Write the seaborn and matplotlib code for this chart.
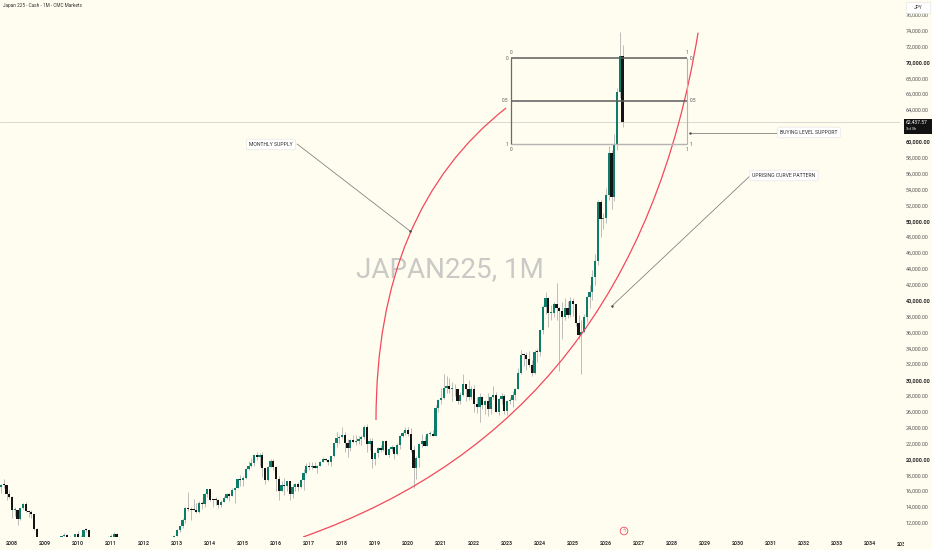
import numpy as np
import pandas as pd
import matplotlib
matplotlib.use("Agg")
import matplotlib.pyplot as plt
import seaborn as sns
from matplotlib.path import Path
from matplotlib.patches import PathPatch, Rectangle

# monthly candles Aug 2007 .. Jul 2026
months = pd.date_range("2007-08-01", "2026-07-01", freq="MS")

opens = [
    17248, 16569, 16786, 16737, 15680,
    15308, 13592, 13603, 12526, 13850, 14338, 13481, 13376, 13072, 11260, 8577, 8512,
    8860, 7994, 7568, 8110, 8828, 9523, 9958, 10357, 10493, 10133, 10034, 9345,
    10546, 10198, 10126, 11089, 11057, 9768, 9383, 9537, 8824, 9369, 9202, 9937,
    10229, 10237, 10624, 9755, 9850, 9693, 9816, 9833, 8955, 8700, 8988, 8434,
    8455, 8802, 9723, 10083, 9520, 8543, 9007, 8695, 8840, 8870, 8928, 9446,
    10395, 11138, 11559, 12398, 13860, 13774, 13677, 13668, 13389, 14456, 14328, 15662,
    16291, 14915, 14841, 14828, 14304, 14632, 15162, 15621, 15425, 16174, 16414, 17460,
    17451, 17674, 18798, 19207, 19520, 20563, 20236, 20585, 18890, 17388, 19083, 19747,
    19034, 17518, 16027, 16759, 16666, 17235, 15576, 16569, 16887, 16450, 17425, 18308,
    19114, 19041, 19119, 18909, 19197, 19651, 20033, 19925, 19646, 20356, 22012, 22725,
    22765, 23098, 22068, 21454, 22468, 22202, 22305, 22554, 22865, 24120, 21920, 22351,
    20015, 20773, 21385, 21206, 22259, 20601, 21276, 21522, 20704, 21756, 22927, 23294,
    23657, 23205, 21143, 18917, 20194, 21878, 22288, 21710, 23140, 23185, 22977, 26434,
    27444, 27663, 28966, 29179, 28813, 28860, 28792, 27284, 28090, 29453, 28893, 27822,
    28792, 27002, 26527, 27821, 26848, 27280, 26393, 27802, 28092, 25937, 27587, 27968,
    26095, 27327, 27446, 28041, 28856, 30888, 33189, 33172, 32619, 31858, 30859, 33487,
    33464, 36287, 39166, 40369, 38406, 38488, 39583, 39102, 38648, 37920, 39081, 38208,
    39895, 39572, 37156, 35618, 36045, 37965, 40487, 41070, 43000, 44933, 52411, 50254,
    50340, 53300, 58600, 53000, 59700, 66200, 70800,
]
highs = [
    17362, 16900, 17488, 16752, 16150,
    15400, 14031, 13670, 13894, 14489, 14601, 13600, 13603, 13100, 11400, 9520, 8950,
    9325, 8076, 8843, 9070, 9558, 10170, 10400, 10767, 10600, 10335, 10130, 10640,
    10982, 10500, 11097, 11408, 11100, 10251, 9800, 9700, 9700, 9700, 10200, 10370,
    10600, 10857, 10768, 9900, 10017, 9900, 10207, 10040, 9050, 9100, 9150, 8700,
    8900, 9867, 10255, 10100, 9600, 9100, 9100, 9200, 9300, 9100, 9500, 10433,
    11200, 11600, 12650, 13980, 15942, 14000, 14953, 14466, 14800, 14800, 15750, 16320,
    16321, 15000, 15300, 15000, 14900, 15400, 15700, 15750, 16374, 16533, 17520, 18030,
    17900, 18850, 19778, 20133, 20600, 20953, 20851, 20946, 18900, 19100, 20012, 20012,
    19100, 17900, 17291, 17613, 17250, 17300, 16938, 17000, 17100, 17500, 18800, 19592,
    19615, 19668, 19656, 19300, 19800, 20318, 20200, 20100, 20400, 22100, 23382, 23000,
    24129, 23500, 22500, 22500, 23050, 23000, 22900, 23000, 24286, 24448, 22700, 22700,
    20900, 21500, 21800, 22300, 22400, 21400, 21800, 21600, 22100, 23000, 23600, 24100,
    24116, 24000, 21700, 20400, 22000, 23200, 22900, 23300, 23600, 23700, 26800, 27600,
    28979, 30714, 30485, 30200, 29700, 29500, 28900, 28500, 30795, 29500, 29960, 29200,
    29400, 27900, 28300, 28000, 27500, 28400, 28000, 29222, 28500, 27700, 28400, 28200,
    27500, 27800, 28600, 29000, 31500, 33772, 33400, 33500, 33600, 32500, 33800, 33900,
    36400, 39400, 41088, 40500, 39400, 39800, 42224, 39200, 39800, 40300, 39900, 40400,
    40300, 39600, 38200, 37600, 38300, 40600, 41900, 43800, 45800, 52600, 52600, 51000,
    54200, 59400, 59000, 61000, 66800, 73800, 72200,
]
lows = [
    15262, 15801, 16356, 14838, 15155,
    12572, 12890, 11691, 12400, 13700, 13400, 12671, 12600, 11100, 6995, 7162, 7860,
    7671, 7162, 7021, 8050, 8590, 9351, 9050, 10100, 9940, 9674, 9076, 9050,
    10100, 9867, 10100, 10900, 9380, 9380, 9100, 8800, 8800, 9000, 9100, 9900,
    10150, 10200, 8227, 9400, 9400, 9300, 9750, 8600, 8300, 8400, 8100, 8200,
    8350, 8750, 9700, 9400, 8500, 8238, 8328, 8550, 8700, 8500, 8600, 9400,
    10380, 10900, 11400, 12000, 13500, 12415, 13600, 13188, 13200, 13748, 14000, 15300,
    14800, 13995, 14200, 13885, 13964, 14600, 15000, 14753, 15400, 14529, 16400, 16672,
    16592, 17500, 18600, 19000, 19200, 19900, 19115, 17714, 16901, 17300, 19000, 18600,
    16017, 14865, 16000, 15471, 15975, 14864, 15095, 16000, 16000, 16400, 16111, 18200,
    18650, 18805, 18900, 18224, 19100, 19600, 19800, 19280, 19100, 20300, 21500, 22100,
    22700, 20950, 20347, 21000, 22100, 21800, 21900, 21800, 22600, 20971, 21200, 18948,
    19241, 20300, 20900, 21000, 20500, 20300, 21000, 20100, 20500, 21300, 22800, 23000,
    22900, 20900, 16358, 17500, 19000, 21500, 21700, 21700, 22900, 22900, 22900, 26000,
    27000, 27600, 28300, 28400, 27385, 28000, 27000, 26954, 28000, 27293, 27500, 27600,
    26000, 25800, 24681, 26300, 25700, 25500, 25700, 27600, 25900, 25600, 27000, 25700,
    25600, 27000, 26600, 27500, 28800, 30800, 31800, 31300, 31600, 30500, 30800, 32200,
    33000, 35800, 38300, 36700, 37600, 37900, 37600, 31156, 35200, 37600, 37800, 37900,
    38000, 36800, 35200, 30792, 36000, 37300, 39000, 40000, 42000, 44500, 48000, 49000,
    49800, 52600, 51500, 52500, 59000, 65500, 61800,
]
closes = [
    16569, 16786, 16737, 15680, 15308,
    13592, 13603, 12526, 13850, 14338, 13481, 13376, 13072, 11260, 8577, 8512, 8860,
    7994, 7568, 8110, 8828, 9523, 9958, 10357, 10493, 10133, 10034, 9345, 10546,
    10198, 10126, 11089, 11057, 9768, 9383, 9537, 8824, 9369, 9202, 9937, 10229,
    10237, 10624, 9755, 9850, 9693, 9816, 9833, 8955, 8700, 8988, 8434, 8455,
    8802, 9723, 10083, 9520, 8543, 9007, 8695, 8840, 8870, 8928, 9446, 10395,
    11138, 11559, 12398, 13860, 13774, 13677, 13668, 13389, 14456, 14328, 15662, 16291,
    14915, 14841, 14828, 14304, 14632, 15162, 15621, 15425, 16174, 16414, 17460, 17451,
    17674, 18798, 19207, 19520, 20563, 20236, 20585, 18890, 17388, 19083, 19747, 19034,
    17518, 16027, 16759, 16666, 17235, 15576, 16569, 16887, 16450, 17425, 18308, 19114,
    19041, 19119, 18909, 19197, 19651, 20033, 19925, 19646, 20356, 22012, 22725, 22765,
    23098, 22068, 21454, 22468, 22202, 22305, 22554, 22865, 24120, 21920, 22351, 20015,
    20773, 21385, 21206, 22259, 20601, 21276, 21522, 20704, 21756, 22927, 23294, 23657,
    23205, 21143, 18917, 20194, 21878, 22288, 21710, 23140, 23185, 22977, 26434, 27444,
    27663, 28966, 29179, 28813, 28860, 28792, 27284, 28090, 29453, 28893, 27822, 28792,
    27002, 26527, 27821, 26848, 27280, 26393, 27802, 28092, 25937, 27587, 27968, 26095,
    27327, 27446, 28041, 28856, 30888, 33189, 33172, 32619, 31858, 30859, 33487, 33464,
    36287, 39166, 40369, 38406, 38488, 39583, 39102, 38648, 37920, 39081, 38208, 39895,
    39572, 37156, 35618, 36045, 37965, 40487, 41070, 43000, 44933, 52411, 50254, 50340,
    53300, 58600, 53000, 59700, 66200, 70800, 62437.57,
]
last_price = 62437.57
# 62,000 sits under the last-price badge, so it is not labelled
price_ticks = [v for v in range(12000, 78000, 2000) if v != 62000]
year_ticks = list(range(2008, 2035))

# drawings (time in years, price in JPY)
box_t = [2023.12, 2028.45]
box_levels = [70540, 65126, 59710]     # 0 / 0.5 / 1
supply_curve = [(2019.03, 24950), (2019.03, 51400), (2022.97, 64240)]
uprise_curve = [(2016.82, 10214), (2026.88, 24950), (2028.79, 73730)]
callouts = [
    ("MONTHLY SUPPLY", (2015.85, 59650), (2016.64, 59710), (2020.06, 48750)),
    ("BUYING LEVEL SUPPORT", (2032.15, 61160), (2031.18, 61100), (2028.55, 61100)),
    ("UPRISING CURVE PATTERN", (2031.39, 55740), (2030.36, 55680), (2026.18, 39300)),
]

bg = "#fffdf0"
up_col = "#0b7d68"
dn_col = "#141414"
red = "#f2485c"

sns.set_theme(style="white", rc={"axes.facecolor": bg, "figure.facecolor": bg})
plt.rcParams['font.family'] = ['Roboto', 'DejaVu Sans']

df = pd.DataFrame({"date": months, "open": opens, "high": highs,
                   "low": lows, "close": closes})
df["t"] = df.date.dt.year + (df.date.dt.month - 1) / 12
df["up"] = df.close >= df.open
df["bot"] = df[["open", "close"]].min(axis=1)
df["body"] = (df.close - df.open).abs().clip(lower=120)

fig = plt.figure(figsize=(9.32, 5.5), dpi=100)
ax = fig.add_axes([0, 13 / 550, 900 / 932, 537 / 550])
ax.set_xlim(2007.636, 2034.909)
ax.set_ylim(10214, 77846)
for s in ax.spines.values():
    s.set_visible(False)

ax.text(0.5, 1 - 270 / 537, "JAPAN225, 1M", transform=ax.transAxes, ha="center",
        va="center", fontsize=20, color="#c9c9c5", zorder=0)

ax.axhline(last_price, color="#d2d2cc", lw=0.6, zorder=1)

# candles
ax.vlines(df.t, np.minimum(df.low, df.bot), np.maximum(df.high, df.bot + df.body),
          color="#a3a3a3", lw=0.5, zorder=2)
ax.bar(df.t, df.body, bottom=df.bot, width=0.062,
       color=np.where(df.up, up_col, dn_col), linewidth=0, zorder=3)

# curves
for pts in (supply_curve, uprise_curve):
    path = Path(pts, [Path.MOVETO, Path.CURVE3, Path.CURVE3])
    ax.add_patch(PathPatch(path, fill=False, ec=red, lw=0.9, zorder=4))

# box with levels
ax.hlines(box_levels[:2], box_t[0], box_t[1], color="#5c5c5c", lw=1.1, zorder=4)
ax.hlines(box_levels[2], box_t[0], box_t[1], color="#b4b4b4", lw=1.0, zorder=4)
ax.vlines(box_t[0], box_levels[2], box_levels[0], color="#6a6a6a", lw=0.9, zorder=4)
ax.vlines(box_t[1], box_levels[2], box_levels[0], color="#b4b4b4", lw=0.8, zorder=4)
lvl_txt = ["0", "0.5", "1"]
for lv, tx in zip(box_levels, lvl_txt):
    ax.annotate(tx, (box_t[0], lv), xytext=(-2.2, 0), textcoords="offset points",
                ha="right", va="center", fontsize=3.4, color="#555")
    ax.annotate(tx, (box_t[1], lv), xytext=(2.2, 0), textcoords="offset points",
                ha="left", va="center", fontsize=3.4, color="#555")
for bt, top_txt, bot_txt in zip(box_t, ["0", "1"], ["0", "1"]):
    ax.annotate(top_txt, (bt, box_levels[0]), xytext=(0, 4), textcoords="offset points",
                ha="center", va="center", fontsize=3.4, color="#555")
    ax.annotate(bot_txt, (bt, box_levels[2]), xytext=(0, -4), textcoords="offset points",
                ha="center", va="center", fontsize=3.4, color="#555")

# callouts
tips_t, tips_v = [], []
for label, pos, a, b in callouts:
    ax.plot([a[0], b[0]], [a[1], b[1]], color="#7a7a7a", lw=0.55, zorder=5)
    tips_t.append(b[0])
    tips_v.append(b[1])
    ax.text(pos[0], pos[1], label, ha="center", va="center", fontsize=3.7,
            color="#333", zorder=6,
            bbox=dict(boxstyle="round,pad=0.55,rounding_size=0.4", fc="white",
                      ec="#e2e2e2", lw=0.4))
sns.scatterplot(x=tips_t, y=tips_v, ax=ax, s=3, color="#444", linewidth=0,
                zorder=7, legend=False)

# event marker near bottom
ax.scatter([2026.545], [10970], s=30, facecolors="none", edgecolors=red,
           linewidths=0.6, zorder=6)
ax.text(2026.545, 10970, "ϟ", ha="center", va="center", fontsize=3.6,
        color=red, zorder=7, family=["DejaVu Sans"])

# axes labels
ax.yaxis.tick_right()
ax.set_yticks(price_ticks)
ax.set_yticklabels([f"{v:,.2f}" for v in price_ticks])
ax.tick_params(axis="y", length=0, pad=4.3, labelsize=3.9, labelcolor="#555")
for lab, v in zip(ax.get_yticklabels(), price_ticks):
    if v % 10000 == 0:
        lab.set_fontweight("bold")
        lab.set_color("#2a2a2a")
ax.set_xticks(year_ticks)
ax.set_xticklabels([str(y) for y in year_ticks])
ax.tick_params(axis="x", length=0, pad=2.6, labelsize=3.8, labelcolor="#333")
for lab in ax.get_xticklabels():
    lab.set_fontweight("bold")
fig.text(903 / 932, 1 - 544 / 550, "2035", ha="center", va="center", fontsize=3.8,
         fontweight="bold", color="#333")
fig.add_artist(Rectangle((904 / 932, 0), 28 / 932, 13 / 550, transform=fig.transFigure,
                         fc=bg, ec="none", zorder=5))

# header and price scale widgets
fig.text(3 / 932, 1 - 6 / 550, "Japan 225 - Cash - 1M - CMC Markets", ha="left",
         va="center", fontsize=3.4, color="#333")
fig.add_artist(Rectangle((906 / 932, 1 - 12.5 / 550), 24 / 932, 10.5 / 550,
                         transform=fig.transFigure, fc="white", ec="#e0e0e0", lw=0.4,
                         zorder=5))
fig.text(918 / 932, 1 - 7.3 / 550, "JPY", ha="center", va="center", fontsize=3.5,
         color="#333", zorder=6)
fig.add_artist(Rectangle((904 / 932, 1 - 133.5 / 550), 28 / 932, 15 / 550,
                         transform=fig.transFigure, fc="#121212", ec="none", zorder=5))
fig.text(906 / 932, 1 - 122.5 / 550, f"{last_price:,.2f}", ha="left", va="center",
         fontsize=3.6, color="white", zorder=6)
fig.text(906 / 932, 1 - 129.5 / 550, "3d 3h", ha="left", va="center",
         fontsize=3.0, color="#dddddd", zorder=6)

fig.savefig("out.png", dpi=100, facecolor=bg)
